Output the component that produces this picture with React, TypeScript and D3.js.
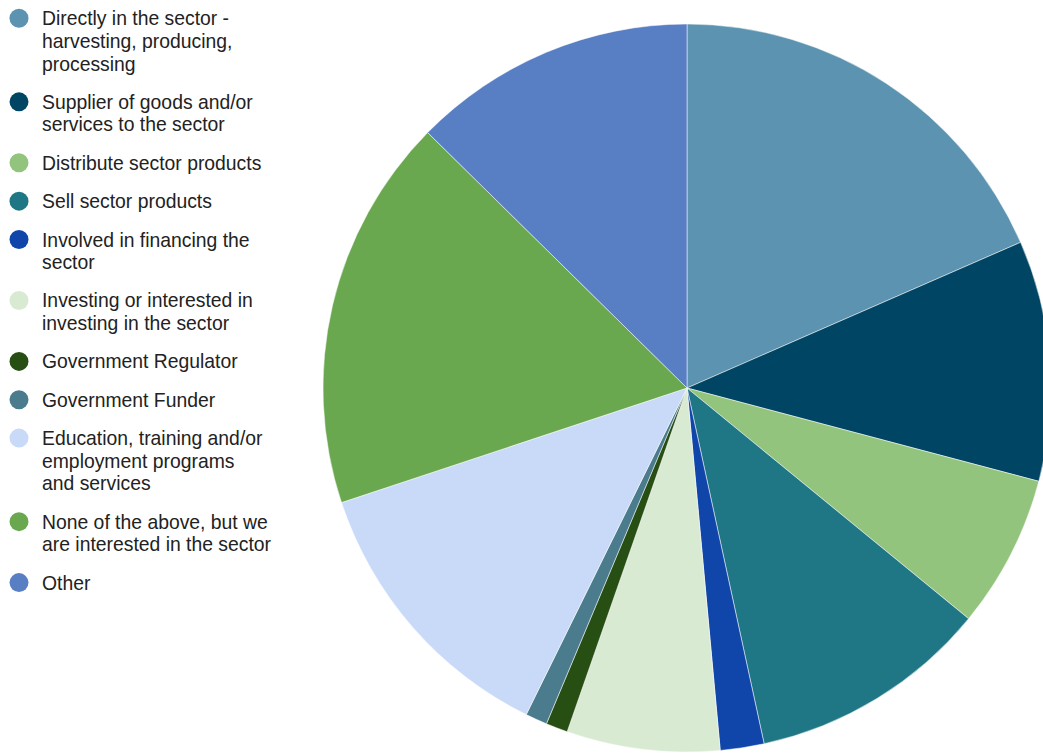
import React from "react";
import * as d3 from "d3";

const categories: string[][] = [
  ["Directly in the sector -", "harvesting, producing,", "processing"],
  ["Supplier of goods and/or", "services to the sector"],
  ["Distribute sector products"],
  ["Sell sector products"],
  ["Involved in financing the", "sector"],
  ["Investing or interested in", "investing in the sector"],
  ["Government Regulator"],
  ["Government Funder"],
  ["Education, training and/or", "employment programs", "and services"],
  ["None of the above, but we", "are interested in the sector"],
  ["Other"],
];

const values: number[] = [19, 11, 7, 11, 2, 7, 1, 1, 13, 18, 13];

const colors: string[] = [
  "#5c93b0",
  "#004563",
  "#93c47d",
  "#1f7785",
  "#1045a9",
  "#d9ead3",
  "#274e13",
  "#4a7c8e",
  "#c9daf8",
  "#6aa84f",
  "#587ec4",
];

const W = 1043;
const H = 753;
const CX = 687;
const CY = 388;
const R = 364;

export default function App() {
  const pie = d3
    .pie<number>()
    .sort(null)
    .value((d) => d)
    .startAngle(0)
    .endAngle(2 * Math.PI);
  const arcs = pie(values);
  const arc = d3.arc<d3.PieArcDatum<number>>().innerRadius(0).outerRadius(R);

  // legend layout
  const lineH = 22.6;
  const itemStep = 38.35;
  let y = 18.3;
  const legendItems = categories.map((lines, i) => {
    const item = { lines, y, color: colors[i] };
    y += itemStep + (lines.length - 1) * lineH;
    return item;
  });

  return (
    <svg
      width={W}
      height={H}
      style={{ position: "absolute", left: 0, top: 0, background: "#fff" }}
    >
      <g transform={`translate(${CX},${CY})`}>
        {arcs.map((a, i) => (
          <path
            key={i}
            d={arc(a) || ""}
            fill={colors[i]}
            stroke="#ffffff"
            strokeWidth={0.5}
          />
        ))}
      </g>
      <g fontFamily="'Liberation Sans', Arial, sans-serif" fontSize={19.35} fill="#222222">
        {legendItems.map((it, i) => (
          <g key={i}>
            <circle cx={19} cy={it.y} r={9.5} fill={it.color} />
            {it.lines.map((ln, j) => (
              <text key={j} x={42} y={it.y + 7 + j * lineH}>
                {ln}
              </text>
            ))}
          </g>
        ))}
      </g>
    </svg>
  );
}
